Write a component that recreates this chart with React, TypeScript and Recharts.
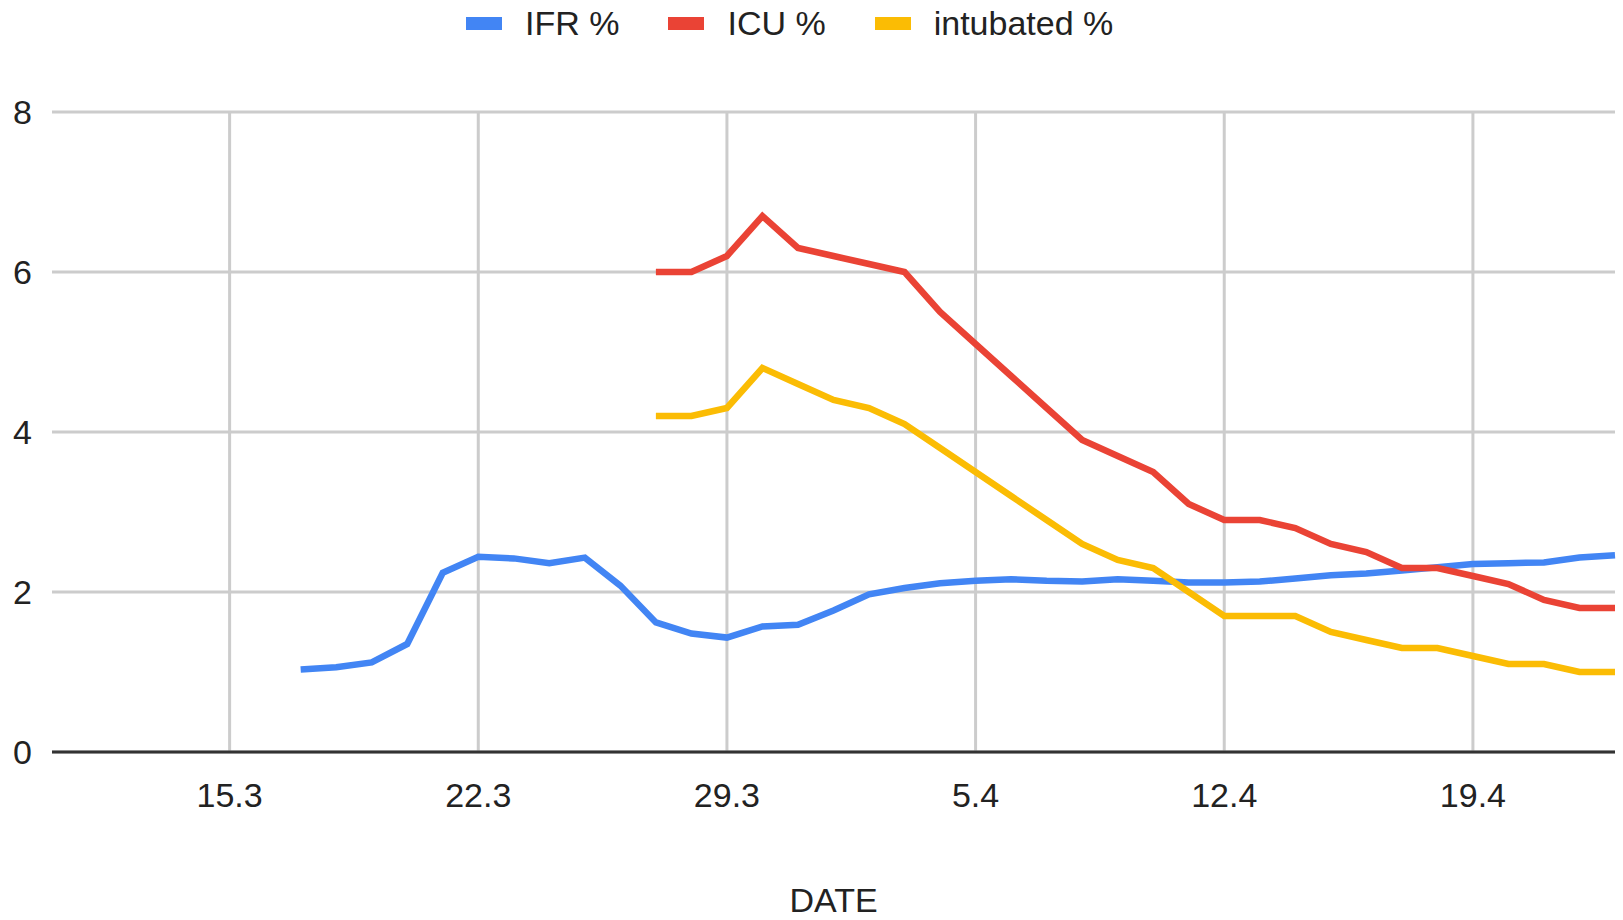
import React from "react"
import { LineChart, Line, XAxis, YAxis, CartesianGrid, Legend } from "recharts"

// dates shown as D.M (March / April)
const dates = [
  "17.3", "18.3", "19.3", "20.3", "21.3", "22.3", "23.3", "24.3", "25.3", "26.3",
  "27.3", "28.3", "29.3", "30.3", "31.3", "1.4", "2.4", "3.4", "4.4", "5.4",
  "6.4", "7.4", "8.4", "9.4", "10.4", "11.4", "12.4", "13.4", "14.4", "15.4",
  "16.4", "17.4", "18.4", "19.4", "20.4", "21.4", "22.4", "23.4",
]

const ifr = [
  1.03, 1.06, 1.12, 1.35, 2.24, 2.44, 2.42, 2.36, 2.43, 2.08,
  1.62, 1.48, 1.43, 1.57, 1.59, 1.77, 1.97, 2.05, 2.11, 2.14,
  2.16, 2.14, 2.13, 2.16, 2.14, 2.12, 2.12, 2.13, 2.17, 2.21,
  2.23, 2.27, 2.31, 2.35, 2.36, 2.37, 2.43, 2.46,
]

const icu = [
  null, null, null, null, null, null, null, null, null, null,
  6.0, 6.0, 6.2, 6.7, 6.3, 6.2, 6.1, 6.0, 5.5, 5.1,
  4.7, 4.3, 3.9, 3.7, 3.5, 3.1, 2.9, 2.9, 2.8, 2.6,
  2.5, 2.3, 2.3, 2.2, 2.1, 1.9, 1.8, 1.8,
]

const intubated = [
  null, null, null, null, null, null, null, null, null, null,
  4.2, 4.2, 4.3, 4.8, 4.6, 4.4, 4.3, 4.1, 3.8, 3.5,
  3.2, 2.9, 2.6, 2.4, 2.3, 2.0, 1.7, 1.7, 1.7, 1.5,
  1.4, 1.3, 1.3, 1.2, 1.1, 1.1, 1.0, 1.0,
]

const xTickLabels = ["15.3", "22.3", "29.3", "5.4", "12.4", "19.4"]
const yTicks = [0, 2, 4, 6, 8]

const series = [
  { key: "ifr", name: "IFR %", color: "#4285F4" },
  { key: "icu", name: "ICU %", color: "#EA4335" },
  { key: "intubated", name: "intubated %", color: "#FBBC04" },
]

// days counted from 10.3 (left edge of the axis)
const toDay = (s: string) => {
  const [d, m] = s.split(".").map(Number)
  return m === 3 ? d - 10 : d + 21
}

const data = dates.map((d, i) => ({
  day: toDay(d),
  ifr: ifr[i],
  icu: icu[i],
  intubated: intubated[i],
}))

const xTicks = xTickLabels.map(toDay)
const labelOf: Record<number, string> = {}
xTickLabels.forEach((l) => (labelOf[toDay(l)] = l))

const FONT = "Arial, 'Liberation Sans', sans-serif"
const LEGEND_H = 46

function TopLegend() {
  return (
    <div style={{ display: "flex", alignItems: "center", paddingLeft: 466, height: LEGEND_H, fontFamily: FONT, fontSize: 34, color: "#222" }}>
      {series.map((s) => (
        <div key={s.key} style={{ display: "flex", alignItems: "center", marginRight: 49 }}>
          <div style={{ width: 36, height: 13, background: s.color, marginRight: 23 }} />
          <span>{s.name}</span>
        </div>
      ))}
    </div>
  )
}

export default function App() {
  return (
    <div style={{ position: "absolute", left: 0, top: 0, width: 1623, height: 920, background: "#fff" }}>
      {/* legend height is added on top of margin.top by recharts */}
      <LineChart width={1623} height={920} data={data} margin={{ top: 112 - LEGEND_H, right: 8, bottom: 0, left: 0 }}>
        <CartesianGrid stroke="#cccccc" strokeWidth={3} syncWithTicks />
        <XAxis
          dataKey="day"
          type="number"
          domain={[0, 44]}
          ticks={xTicks}
          tickFormatter={(v: number) => labelOf[v] ?? ""}
          tick={{ fontSize: 34, fill: "#222", fontFamily: FONT }}
          tickLine={false}
          tickMargin={25}
          axisLine={{ stroke: "#333", strokeWidth: 3 }}
          height={168}
          label={{ value: "DATE", position: "insideBottom", offset: 8, fontSize: 34, fill: "#222", fontFamily: FONT }}
        />
        <YAxis
          domain={[0, 8]}
          ticks={yTicks}
          width={52}
          tick={{ fontSize: 34, fill: "#222", fontFamily: FONT }}
          tickLine={false}
          axisLine={false}
          tickMargin={14}
        />
        <Legend verticalAlign="top" height={LEGEND_H} wrapperStyle={{ top: 0, left: 0, width: 1623 }} content={() => <TopLegend />} />
        {series.map((s) => (
          <Line
            key={s.key}
            type="linear"
            dataKey={s.key}
            name={s.name}
            stroke={s.color}
            strokeWidth={6.5}
            dot={false}
            activeDot={false}
            isAnimationActive={false}
          />
        ))}
      </LineChart>
    </div>
  )
}
